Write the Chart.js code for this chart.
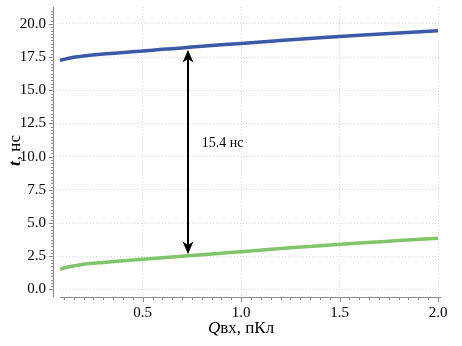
<!DOCTYPE html>
<html>
<head>
<meta charset="utf-8">
<script src="https://cdn.jsdelivr.net/npm/chart.js@4"></script>
<style>
  html, body { margin: 0; padding: 0; background: #fff; }
  #wrap { width: 462px; height: 346px; }
</style>
</head>
<body>
<div id="wrap"><canvas id="chart"></canvas></div>
<script>
// data
const qValues = [0.08, 0.1, 0.15, 0.2, 0.3, 0.4, 0.5, 0.6, 0.7, 0.8, 0.9, 1.0, 1.2, 1.4, 1.6, 1.8, 2.0];
const tUpper = [17.25, 17.33, 17.48, 17.58, 17.73, 17.85, 17.96, 18.08, 18.19, 18.31, 18.42, 18.53, 18.75, 18.95, 19.14, 19.32, 19.49];
const tLower = [1.52, 1.62, 1.78, 1.90, 2.04, 2.16, 2.27, 2.39, 2.50, 2.62, 2.73, 2.85, 3.08, 3.30, 3.50, 3.68, 3.86];
const xTicks = [0.5, 1.0, 1.5, 2.0];
const yTicks = [0, 2.5, 5, 7.5, 10, 12.5, 15, 17.5, 20];

// annotation
const arrowQ = 0.73;
const arrowTop = 18.05;
const arrowBottom = 2.65;
const gapLabel = '15.4 нс';
const gapLabelAt = [0.8, 11.0];

const serif = '"Liberation Serif", "DejaVu Serif", serif';
const axisGray = '#8c8c8c';

const toPoints = (xs, ys) => xs.map((x, i) => ({ x: x, y: ys[i] }));

// extra drawing: left axis line, minor/major ticks, arrow, titles
const decorations = {
  id: 'decorations',
  afterDraw(chart) {
    const ctx = chart.ctx;
    const xs = chart.scales.x, ys = chart.scales.y;
    const area = chart.chartArea;
    const axisX = area.left - 7;
    ctx.save();
    ctx.strokeStyle = axisGray;
    ctx.lineWidth = 1;

    // y axis line
    ctx.beginPath();
    ctx.moveTo(axisX + 0.5, area.top);
    ctx.lineTo(axisX + 0.5, area.bottom);
    ctx.stroke();

    // y ticks
    ctx.beginPath();
    for (let v = 0; v <= 21.2; v += 0.25) {
      const py = Math.round(ys.getPixelForValue(v)) + 0.5;
      const major = Math.abs(v / 2.5 - Math.round(v / 2.5)) < 1e-6;
      ctx.moveTo(axisX, py);
      ctx.lineTo(axisX - (major ? 4 : 2), py);
    }
    ctx.stroke();

    // x ticks
    ctx.beginPath();
    for (let v = 0.1; v <= 2.001; v += 0.05) {
      const px = Math.round(xs.getPixelForValue(v)) + 0.5;
      const major = Math.abs(v / 0.5 - Math.round(v / 0.5)) < 1e-6;
      ctx.moveTo(px, area.bottom);
      ctx.lineTo(px, area.bottom + (major ? 5 : 3));
    }
    ctx.stroke();

    // double arrow
    const ax = xs.getPixelForValue(arrowQ);
    const y1 = ys.getPixelForValue(arrowTop);
    const y2 = ys.getPixelForValue(arrowBottom);
    ctx.strokeStyle = '#000';
    ctx.fillStyle = '#000';
    ctx.lineWidth = 2;
    ctx.beginPath();
    ctx.moveTo(ax, y1 + 6);
    ctx.lineTo(ax, y2 - 6);
    ctx.stroke();
    const head = (tipY, dir) => {
      ctx.beginPath();
      ctx.moveTo(ax, tipY);
      ctx.lineTo(ax - 5.5, tipY + dir * 13);
      ctx.lineTo(ax, tipY + dir * 9);
      ctx.lineTo(ax + 5.5, tipY + dir * 13);
      ctx.closePath();
      ctx.fill();
    };
    head(y1, 1);
    head(y2, -1);

    ctx.font = '14px ' + serif;
    ctx.textBaseline = 'middle';
    ctx.textAlign = 'left';
    ctx.fillText(gapLabel, xs.getPixelForValue(gapLabelAt[0]), ys.getPixelForValue(gapLabelAt[1]));

    // x title: Qвх, пКл
    ctx.textBaseline = 'alphabetic';
    const tx = 'вх, пКл';
    ctx.font = 'italic 17px ' + serif;
    const wq = ctx.measureText('Q').width;
    ctx.font = '17px ' + serif;
    const wr = ctx.measureText(tx).width;
    let sx = 241 - (wq + wr) / 2;
    ctx.font = 'italic 17px ' + serif;
    ctx.fillText('Q', sx, 333);
    ctx.font = '17px ' + serif;
    ctx.fillText(tx, sx + wq, 333);

    // y title: t, нс (rotated)
    ctx.translate(20, 151);
    ctx.rotate(-Math.PI / 2);
    ctx.font = 'italic bold 17px ' + serif;
    const wt = ctx.measureText('t').width;
    ctx.font = '17px ' + serif;
    const wy = ctx.measureText(', нс').width;
    sx = -(wt + wy) / 2;
    ctx.font = 'italic bold 17px ' + serif;
    ctx.fillText('t', sx, 0);
    ctx.font = '17px ' + serif;
    ctx.fillText(', нс', sx + wt + 1, 0);
    ctx.restore();
  }
};

new Chart(document.getElementById('chart'), {
  type: 'scatter',
  data: {
    datasets: [
      {
        data: toPoints(qValues, tUpper),
        showLine: true,
        borderColor: 'rgb(58, 90, 168)',
        borderWidth: 3.5,
        pointRadius: 0,
        cubicInterpolationMode: 'monotone'
      },
      {
        data: toPoints(qValues, tLower),
        showLine: true,
        borderColor: 'rgb(128, 196, 108)',
        borderWidth: 3.5,
        pointRadius: 0,
        cubicInterpolationMode: 'monotone'
      }
    ]
  },
  options: {
    responsive: true,
    maintainAspectRatio: false,
    animation: false,
    layout: { padding: { top: 7, right: 22, left: 0, bottom: 0 } },
    plugins: { legend: { display: false }, tooltip: { enabled: false } },
    scales: {
      x: {
        type: 'linear',
        min: 0.08,
        max: 2.01,
        afterBuildTicks: s => { s.ticks = xTicks.map(v => ({ value: v })); },
        afterFit: s => { s.height = 49; s.paddingLeft = 0; s.paddingRight = 0; },
        grid: { color: '#d9d9d9', drawTicks: false },
        border: { display: true, color: axisGray, dash: [1, 2] },
        ticks: {
          color: '#000',
          padding: 7,
          maxRotation: 0,
          font: { family: serif, size: 15 },
          callback: v => v.toFixed(1)
        }
      },
      y: {
        type: 'linear',
        min: -0.565,
        max: 21.27,
        afterBuildTicks: s => { s.ticks = yTicks.map(v => ({ value: v })); },
        afterFit: s => { s.width = 60; s.paddingTop = 0; s.paddingBottom = 0; },
        grid: { color: '#d9d9d9', drawTicks: false },
        border: { display: false, dash: [1, 2] },
        ticks: {
          color: '#000',
          padding: 14,
          font: { family: serif, size: 15 },
          callback: v => v.toFixed(1)
        }
      }
    }
  },
  plugins: [decorations]
});
</script>
</body>
</html>
